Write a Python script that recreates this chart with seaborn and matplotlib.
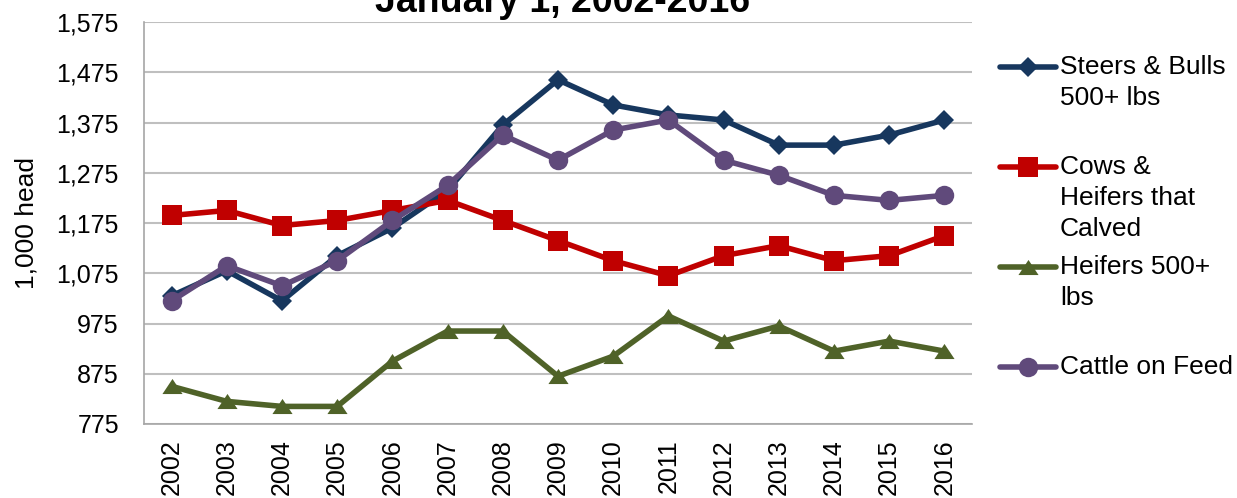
import matplotlib
matplotlib.use("Agg")
import matplotlib.pyplot as plt
from matplotlib.lines import Line2D
from matplotlib.ticker import FixedLocator, FuncFormatter
import pandas as pd
import seaborn as sns

# data (1,000 head, January 1)
years = [str(y) for y in range(2002, 2017)]
steers_bulls = [1030, 1080, 1020, 1110, 1165, 1240, 1370, 1460, 1410, 1390, 1380, 1330, 1330, 1350, 1380]
cows_heifers_calved = [1190, 1200, 1170, 1180, 1200, 1220, 1180, 1140, 1100, 1070, 1110, 1130, 1100, 1110, 1150]
heifers_500 = [850, 820, 810, 810, 900, 960, 960, 870, 910, 990, 940, 970, 920, 940, 920]
cattle_on_feed = [1020, 1090, 1050, 1100, 1180, 1250, 1350, 1300, 1360, 1380, 1300, 1270, 1230, 1220, 1230]

series_names = ["Steers & Bulls\n500+ lbs", "Cows &\nHeifers that\nCalved", "Heifers 500+\nlbs", "Cattle on Feed"]
series_values = [steers_bulls, cows_heifers_calved, heifers_500, cattle_on_feed]
colors = ["#17375E", "#C00000", "#4F6228", "#604A7B"]
tri = [(-1, -0.75), (1, -0.75), (0, 0.75)]
markers = ["D", "s", tri, "o"]
msizes = [10.5, 14, 14.5, 14]

sns.set_style("white")
plt.rcParams["font.family"] = ["Liberation Sans", "DejaVu Sans"]
plt.rcParams["text.color"] = "black"
plt.rcParams["axes.labelcolor"] = "black"
plt.rcParams["xtick.labelcolor"] = "black"
plt.rcParams["ytick.labelcolor"] = "black"

fig = plt.figure(figsize=(12.37, 4.98), dpi=100)
ax = fig.add_axes([0.1164, 0.1486, 0.7858 - 0.1164, 0.9558 - 0.1486])

# long-form table for seaborn
frames = []
for name, vals in zip(series_names, series_values):
    frames.append(pd.DataFrame({"year": years, "value": vals, "series": name}))
df = pd.concat(frames, ignore_index=True)

for name, col, mk, ms in zip(series_names, colors, markers, msizes):
    sns.lineplot(
        data=df[df["series"] == name], x="year", y="value",
        color=col, marker=mk, markersize=ms, markeredgewidth=0,
        linewidth=4, ax=ax, legend=False, zorder=3,
    )

# axes styling like the spreadsheet chart
ax.set_xlim(-0.5, len(years) - 0.5)
ax.set_ylim(775, 1575)
ax.yaxis.set_major_locator(FixedLocator(list(range(775, 1576, 100))))
ax.yaxis.set_major_formatter(FuncFormatter(lambda v, p: f"{int(v):,}"))
ax.grid(axis="y", color="#BFBFBF", linewidth=1.5, zorder=0)
ax.grid(axis="x", visible=False)
for s in ["top", "right"]:
    ax.spines[s].set_visible(False)
for s in ["left", "bottom"]:
    ax.spines[s].set_color("#A6A6A6")
    ax.spines[s].set_linewidth(1.2)

ax.set_xticks(range(len(years)))
ax.set_xticklabels(years, rotation=90, fontsize=18)
ax.tick_params(axis="x", which="major", length=0, pad=11)
ax.set_xticks([i - 0.5 for i in range(len(years) + 1)], minor=True)
ax.tick_params(axis="x", which="minor", length=7, color="#A6A6A6", width=1.2, direction="out")
ax.tick_params(axis="y", length=5, color="#A6A6A6", width=1.2, labelsize=18, pad=13, direction="out")
ax.set_xlabel("")
ax.set_ylabel("1,000 head", fontsize=19, labelpad=13)

# title (top line is cut off in the reference)
fig.text(0.455, 0.976, "January 1, 2002-2016", ha="center", va="baseline",
         fontsize=27, fontweight="bold")

# legend, handles lined up with the first line of each label
leg_tops = [67, 167, 267, 367]
H = 498.0
for name, col, mk, ms, yp in zip(series_names, colors, markers, msizes, leg_tops):
    yf = 1 - yp / H
    fig.add_artist(Line2D([1000 / 1237, 1056 / 1237], [yf, yf], color=col, linewidth=4,
                          transform=fig.transFigure))
    fig.add_artist(Line2D([1028 / 1237], [yf], color=col, marker=mk, markersize=ms,
                          markeredgewidth=0, transform=fig.transFigure))
    fig.text(1060 / 1237, yf + 12 / H, name, ha="left", va="top", fontsize=19,
             linespacing=1.38)

fig.savefig("out.png", dpi=100)
